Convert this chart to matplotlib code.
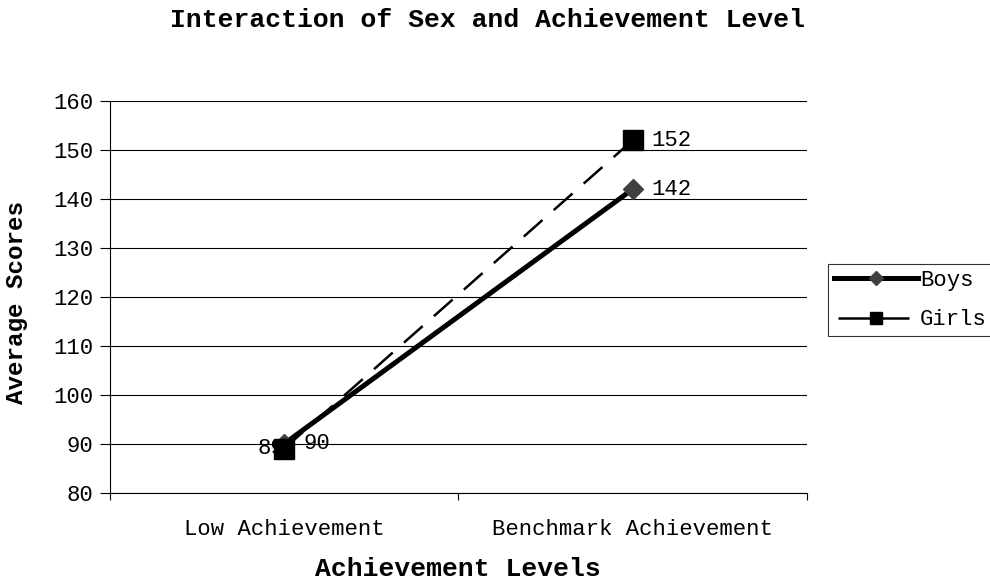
import matplotlib.pyplot as plt
import numpy as np

# data
levels = ['Low Achievement', 'Benchmark Achievement']
boys = [90, 142]
girls = [89, 152]
yticks = list(range(80, 161, 10))

plt.rcParams['font.family'] = ['Liberation Mono', 'DejaVu Sans Mono']

fig = plt.figure(figsize=(9.9, 5.88), dpi=100)
ax = fig.add_axes([0.111, 0.162, 0.704, 0.666])

x = np.arange(len(levels))
ax.plot(x, boys, color='black', lw=3.6, marker='D', ms=10.5,
        mfc='#404040', mec='#404040', label='Boys', zorder=3)
ax.plot(x, girls, color='black', lw=1.8, ls=(0, (10, 6)), marker='s', ms=14,
        mfc='black', mec='black', label='Girls', zorder=4)

# value labels
ax.text(x[0], girls[0], str(girls[0]), fontsize=16, ha='right', va='center', zorder=2)
ax.text(x[0] + 0.055, boys[0], str(boys[0]), fontsize=16, ha='left', va='center', zorder=5)
ax.text(x[1] + 0.055, girls[1], str(girls[1]), fontsize=16, ha='left', va='center')
ax.text(x[1] + 0.055, boys[1], str(boys[1]), fontsize=16, ha='left', va='center')

ax.set_xlim(-0.5, 1.5)
ax.set_ylim(80, 160)
ax.set_yticks(yticks)
ax.yaxis.grid(True, color='black', lw=0.8)
ax.set_axisbelow(True)
ax.set_xticks([-0.5, 0.5, 1.5])
ax.set_xticklabels([])
ax.set_xticks(x, minor=True)
ax.set_xticklabels(levels, minor=True, fontsize=16)
ax.tick_params(axis='x', which='minor', length=0, pad=19)
ax.tick_params(axis='x', which='major', length=5, direction='out')
ax.tick_params(axis='y', length=7, labelsize=16, pad=5)
for s in ['top', 'right']:
    ax.spines[s].set_visible(False)

fig.text(17 / 990, 1 - 303 / 588, 'Average Scores', fontsize=17.5, fontweight='bold',
         rotation=90, ha='center', va='center')
fig.text(458 / 990, 1 - 569 / 588, 'Achievement Levels', fontsize=19, fontweight='bold',
         ha='center', va='center')
fig.text(488 / 990, 1 - 20 / 588, 'Interaction of Sex and Achievement Level', fontsize=19,
         fontweight='bold', ha='center', va='center')

leg = ax.legend(loc='upper left', bbox_to_anchor=(828 / 990, 1 - 264 / 588),
                bbox_transform=fig.transFigure, borderaxespad=0, fontsize=16,
                frameon=True, fancybox=False, edgecolor='black',
                handlelength=3.8, markerscale=0.65, handletextpad=0.1,
                borderpad=0.25, labelspacing=0.85)
leg.get_frame().set_linewidth(0.8)
leg.get_lines()[1].set_linestyle((32.4, (28.4, 5.6)))

fig.savefig('out.png', dpi=100)
